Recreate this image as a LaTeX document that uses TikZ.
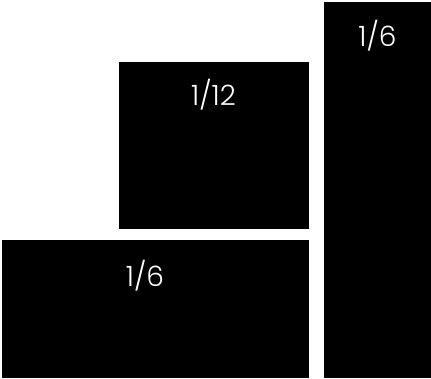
\documentclass[tikz,border=0pt]{standalone}
\usepackage{fontspec}
\setmainfont{Poppins}[UprightFont=* Light]
\begin{document}
\begin{tikzpicture}[x=1pt,y=1pt,
  blk/.style={fill=black,draw=none,inner sep=0pt,outer sep=0pt},
  lbl/.style={text=white,font=\fontsize{28}{32}\selectfont,inner sep=0pt,anchor=base}]
\useasboundingbox (0,0) rectangle (431,379);
\fill[white] (0,0) rectangle (431,379);
\node[blk,minimum width=107pt,minimum height=376pt] (right) at (377.5,189) {};
\node[blk,minimum width=190pt,minimum height=167pt] (mid) at (214,233.5) {};
\node[blk,minimum width=307pt,minimum height=138pt] (bot) at (155.5,70) {};
\node[lbl] (lr) at (377.5,332.5) {1/6};
\node[lbl] (lm) at (213.5,273) {1/12};
\node[lbl] (lb) at (145,92.5) {1/6};
\end{tikzpicture}
\end{document}
